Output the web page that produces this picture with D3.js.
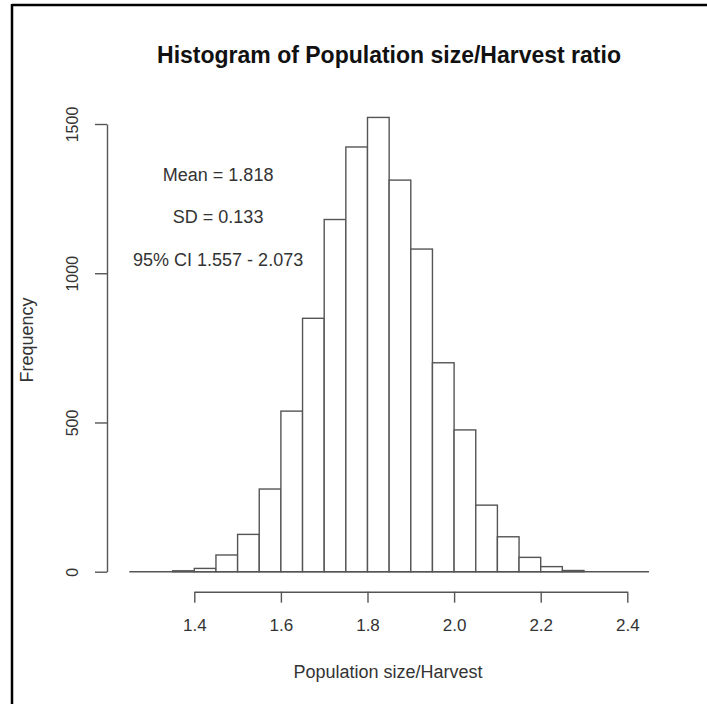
<!DOCTYPE html>
<html>
<head>
<meta charset="utf-8">
<script src="https://cdn.jsdelivr.net/npm/d3@7"></script>
<style>
  body { margin: 0; background: #fff; }
  text { font-family: "Liberation Sans", Arial, sans-serif; fill: #333; }
</style>
</head>
<body>
<div class="container"></div>
<script>
// Histogram data (bin starts, width 0.05)
const binStarts = [1.35, 1.40, 1.45, 1.50, 1.55, 1.60, 1.65, 1.70, 1.75, 1.80,
                   1.85, 1.90, 1.95, 2.00, 2.05, 2.10, 2.15, 2.20, 2.25];
const counts = [3, 11, 56, 125, 277, 538, 849, 1180, 1423, 1522,
                1312, 1081, 700, 475, 223, 117, 48, 17, 4];
const binWidth = 0.05;

// Axis ticks
const xTicks = [1.4, 1.6, 1.8, 2.0, 2.2, 2.4];
const yTicks = [0, 500, 1000, 1500];

// Baseline extent (plot region in data units)
const xLimits = [1.25, 2.45];

// Labels
const titleText = "Histogram of Population size/Harvest ratio";
const xLabel = "Population size/Harvest";
const yLabel = "Frequency";
const notes = ["Mean = 1.818", "SD = 0.133", "95% CI 1.557 - 2.073"];
const noteX = 1.455;
const noteY = [1330, 1190, 1045];

const width = 707, height = 704;
const lineColor = "#555";

const svg = d3.select(".container").append("svg")
  .attr("width", width)
  .attr("height", height);

svg.append("rect")
  .attr("width", width)
  .attr("height", height)
  .attr("fill", "#fff");

// Frame lines (top and left only)
svg.append("line")
  .attr("x1", 12).attr("y1", 5).attr("x2", width).attr("y2", 5)
  .attr("stroke", "#000").attr("stroke-width", 2.5);
svg.append("line")
  .attr("x1", 12).attr("y1", 4).attr("x2", 12).attr("y2", height)
  .attr("stroke", "#000").attr("stroke-width", 2.5);

const x = d3.scaleLinear().domain([1.4, 2.4]).range([194.3, 627.3]);
const y = d3.scaleLinear().domain([0, 1500]).range([571.7, 124]);

// Bars
svg.append("g")
  .selectAll("rect")
  .data(binStarts)
  .enter()
  .append("rect")
  .attr("x", d => x(d))
  .attr("y", (d, i) => y(counts[i]))
  .attr("width", d => x(d + binWidth) - x(d))
  .attr("height", (d, i) => y(0) - y(counts[i]))
  .attr("fill", "#fff")
  .attr("stroke", lineColor)
  .attr("stroke-width", 1.4);

// Baseline
svg.append("line")
  .attr("x1", x(xLimits[0])).attr("x2", x(xLimits[1]))
  .attr("y1", y(0)).attr("y2", y(0))
  .attr("stroke", lineColor).attr("stroke-width", 1.4);

// X axis
const xAxis = svg.append("g")
  .attr("transform", "translate(0,591.7)")
  .call(d3.axisBottom(x)
    .tickValues(xTicks)
    .tickFormat(d3.format(".1f"))
    .tickSize(11)
    .tickSizeOuter(0)
    .tickPadding(16));
xAxis.selectAll("path, line").attr("stroke", lineColor).attr("stroke-width", 1.4);
xAxis.selectAll("text")
  .style("font-family", "'Liberation Sans', Arial, sans-serif")
  .style("font-size", "17px")
  .attr("fill", "#333");

// Y axis
const yAxis = svg.append("g")
  .attr("transform", "translate(107,0)")
  .call(d3.axisLeft(y)
    .tickValues(yTicks)
    .tickFormat(d3.format("d"))
    .tickSize(12)
    .tickSizeOuter(0));
yAxis.selectAll("path, line").attr("stroke", lineColor).attr("stroke-width", 1.4);
yAxis.selectAll("text")
  .attr("x", null)
  .attr("dy", "0.35em")
  .attr("text-anchor", "middle")
  .attr("transform", "translate(-35,0) rotate(-90)")
  .style("font-family", "'Liberation Sans', Arial, sans-serif")
  .style("font-size", "16px")
  .attr("fill", "#333");

// Title
svg.append("text")
  .attr("x", 389)
  .attr("y", 63)
  .attr("text-anchor", "middle")
  .style("font-size", "23px")
  .style("font-weight", "bold")
  .style("fill", "#111")
  .text(titleText);

// Axis labels
svg.append("text")
  .attr("x", 388)
  .attr("y", 672)
  .attr("dy", "0.35em")
  .attr("text-anchor", "middle")
  .style("font-size", "18px")
  .text(xLabel);

svg.append("text")
  .attr("transform", "translate(27,340) rotate(-90)")
  .attr("dy", "0.35em")
  .attr("text-anchor", "middle")
  .style("font-size", "18px")
  .text(yLabel);

// Summary notes
svg.append("g")
  .selectAll("text")
  .data(notes)
  .enter()
  .append("text")
  .attr("x", x(noteX))
  .attr("y", (d, i) => y(noteY[i]))
  .attr("dy", "0.35em")
  .attr("text-anchor", "middle")
  .style("font-size", "18px")
  .text(d => d);
</script>
</body>
</html>
